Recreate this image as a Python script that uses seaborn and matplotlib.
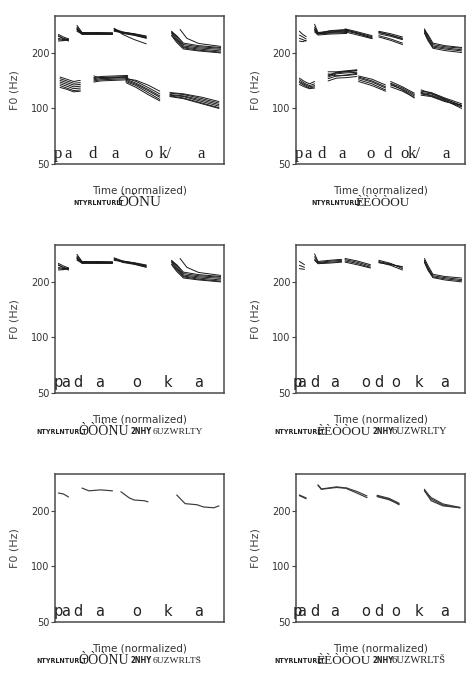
import numpy as np
import pandas as pd
import matplotlib
matplotlib.use("Agg")
import matplotlib.pyplot as plt
from matplotlib.ticker import FixedLocator, NullLocator, FixedFormatter
import seaborn as sns

# ---------------- data (F0 in Hz, time normalized 0..1) ----------------
# Panel 1 (top-left): upper register
p1_a_t = [0.02, 0.05, 0.08]
p1_a = [[252, 244, 238], [246, 240, 236], [240, 236, 234], [236, 234, 236], [232, 233, 238], [248, 238, 232]]
p1_b_t = [0.13, 0.16, 0.25, 0.34]
p1_b = [[282, 258, 256, 255], [276, 256, 255, 254], [270, 254, 254, 253], [266, 257, 258, 257],
        [262, 253, 252, 252], [272, 255, 256, 256], [268, 252, 253, 254]]
p1_c_t = [0.35, 0.40, 0.47, 0.54]
p1_c = [[270, 260, 253, 245], [266, 258, 252, 243], [262, 257, 250, 241], [268, 255, 249, 240],
        [264, 259, 254, 247], [272, 252, 236, 224]]
p1_d_t = [0.69, 0.72, 0.76, 0.85, 0.98]
p1_d = [[262, 245, 222, 216, 212], [258, 240, 218, 213, 209], [255, 236, 215, 210, 205],
        [250, 232, 213, 207, 202], [260, 248, 226, 219, 214], [248, 228, 210, 205, 200]]
p1_d2_t = [0.74, 0.78, 0.85, 0.98]
p1_d2 = [[268, 240, 225, 217]]
# Panel 1: lower register
p1_e_t = [0.03, 0.07, 0.11, 0.15]
p1_e = [[148, 144, 140, 142], [145, 141, 137, 138], [142, 138, 134, 135], [139, 135, 131, 132],
        [136, 132, 128, 129], [133, 129, 125, 126], [130, 127, 123, 124]]
p1_f_t = [0.23, 0.27, 0.35, 0.43]
p1_f = [[147, 149, 150, 151], [145, 147, 148, 149], [143, 145, 146, 147], [141, 143, 144, 145],
        [150, 146, 147, 148], [139, 141, 142, 143]]
p1_g_t = [0.42, 0.48, 0.55, 0.62]
p1_g = [[146, 140, 130, 120], [144, 137, 127, 117], [142, 135, 125, 115], [140, 133, 122, 112],
        [138, 130, 119, 110], [145, 142, 134, 124]]
p1_h_t = [0.68, 0.76, 0.87, 0.97]
p1_h = [[121, 119, 113, 107], [119, 117, 111, 105], [118, 116, 109, 103], [117, 114, 107, 101],
        [122, 120, 115, 109], [116, 113, 106, 100]]

# Panel 2 (top-right): upper register
p2_a_t = [0.02, 0.04, 0.06]
p2_a = [[262, 252, 245], [250, 244, 238], [240, 236, 232], [232, 230, 234]]
p2_b_t = [0.11, 0.13, 0.20, 0.30]
p2_b = [[286, 258, 262, 266], [276, 256, 260, 263], [270, 254, 258, 261], [264, 253, 256, 258],
        [260, 250, 253, 255], [268, 255, 264, 268]]
p2_c_t = [0.29, 0.35, 0.45]
p2_c = [[270, 262, 248], [266, 259, 245], [263, 256, 242], [260, 252, 239], [268, 258, 240]]
p2_d_t = [0.49, 0.56, 0.63]
p2_d = [[262, 254, 244], [258, 250, 240], [254, 246, 236], [248, 238, 226], [244, 234, 222], [260, 249, 238]]
p2_e_t = [0.76, 0.78, 0.81, 0.88, 0.98]
p2_e = [[270, 248, 222, 216, 212], [264, 242, 218, 213, 208], [260, 238, 215, 210, 205],
        [256, 234, 212, 206, 201], [266, 252, 226, 219, 214]]
# Panel 2: lower register
p2_f_t = [0.02, 0.05, 0.08, 0.11]
p2_f = [[146, 140, 136, 140], [143, 137, 133, 136], [140, 135, 131, 133], [138, 133, 129, 131], [135, 131, 128, 129]]
p2_g_t = [0.19, 0.24, 0.30, 0.36]
p2_g = [[154, 150, 152, 155], [150, 156, 158, 160], [152, 157, 159, 161], [148, 154, 156, 157],
        [145, 150, 151, 153], [141, 146, 147, 149], [158, 158, 160, 162]]
p2_h_t = [0.37, 0.45, 0.53]
p2_h = [[150, 144, 134], [148, 141, 131], [146, 139, 129], [143, 136, 126], [140, 133, 124]]
p2_i_t = [0.56, 0.63, 0.70]
p2_i = [[140, 131, 121], [137, 129, 119], [134, 127, 117], [131, 124, 115], [136, 126, 114]]
p2_j_t = [0.74, 0.80, 0.88, 0.98]
p2_j = [[124, 122, 114, 106], [122, 120, 112, 104], [120, 117, 110, 102], [126, 121, 113, 103],
        [121, 118, 111, 100], [118, 116, 109, 104]]

# Panel 4 (middle-right)
p4_a_t = [0.02, 0.05]
p4_a = [[258, 248], [246, 240], [236, 234]]
p4_b_t = [0.11, 0.13, 0.20, 0.27]
p4_b = [[284, 258, 262, 265], [274, 255, 259, 262], [266, 253, 256, 258], [262, 251, 253, 256]]
p4_c_t = [0.29, 0.36, 0.44]
p4_c = [[268, 260, 248], [264, 256, 244], [260, 252, 240], [256, 248, 238]]
p4_d_t = [0.49, 0.56, 0.63]
p4_d = [[262, 252, 236], [258, 250, 240], [254, 248, 242], [256, 246, 232]]
p4_e_t = [0.76, 0.78, 0.81, 0.88, 0.98]
p4_e = [[268, 246, 220, 214, 210], [262, 240, 216, 211, 206], [258, 236, 213, 208, 203], [255, 232, 211, 205, 200]]

# Panel 5 (bottom-left): single contour
p5_a_t = [0.02, 0.05, 0.08]
p5_a = [[250, 247, 238]]
p5_b_t = [0.16, 0.20, 0.27, 0.34]
p5_b = [[266, 257, 260, 257]]
p5_c_t = [0.39, 0.44, 0.47, 0.53, 0.55]
p5_c = [[254, 235, 229, 227, 224]]
p5_d_t = [0.72, 0.77, 0.84, 0.88, 0.94, 0.97]
p5_d = [[244, 219, 216, 210, 208, 213]]

# Panel 6 (bottom-right)
p6_a_t = [0.02, 0.06]
p6_a = [[244, 235], [242, 233]]
p6_b_t = [0.13, 0.15, 0.24, 0.30]
p6_b = [[277, 263, 270, 266], [275, 262, 268, 265]]
p6_c_t = [0.30, 0.36, 0.42]
p6_c = [[266, 255, 241], [264, 250, 236]]
p6_d_t = [0.48, 0.55, 0.61]
p6_d = [[241, 232, 216], [239, 230, 218], [243, 234, 220]]
p6_e_t = [0.76, 0.80, 0.87, 0.97]
p6_e = [[257, 227, 213, 208], [262, 232, 215, 208], [258, 236, 218, 209]]

# Segment labels
lab_r1l = ["p", "a", "d", "a", "o", "k/", "a"]
pos_r1l = [0.02, 0.08, 0.22, 0.355, 0.555, 0.65, 0.865]
lab_r1r = ["p", "a", "d", "a", "o", "d", "o", "k/", "a"]
pos_r1r = [0.02, 0.07, 0.15, 0.27, 0.44, 0.54, 0.645, 0.70, 0.89]
lab_l = ["p", "a", "d", "a", "o", "k", "a"]
pos_l = [0.02, 0.06, 0.137, 0.266, 0.485, 0.67, 0.85]
lab_r = ["p", "a", "d", "a", "o", "d", "o", "k", "a"]
pos_r = [0.01, 0.035, 0.11, 0.23, 0.41, 0.49, 0.59, 0.73, 0.88]

yticks = [50, 100, 200]
ytick_labels = ["50", "100", "200"]
ylims = (50, 317)

# caption pieces: (text, kind, x position in axes fraction, font size)
captions = {
    0: [("NTYRLNTURLT", "sans", 0.11, 5), ("ÒÒNU", "serif", 0.37, 11)],
    1: [("NTYRLNTURLT", "sans", 0.09, 5), ("ÈÈÒÒOU", "serif", 0.35, 9.5)],
    2: [("NTYRLNTURLT", "sans", -0.11, 5), ("ÒÒÒNU", "serif", 0.136, 10),
        ("2NHY", "sans", 0.445, 5.5), ("6UZWRLTY", "serif", 0.575, 6.8)],
    3: [("NTYRLNTURLT", "sans", -0.13, 5), ("ÈÈÒÒOU", "serif", 0.12, 9.5),
        ("2NHY", "sans", 0.455, 5.5), ("6UZWRLTY", "serif", 0.565, 7.6)],
    4: [("NTYRLNTURLT", "sans", -0.11, 5), ("ÒÒÒNU", "serif", 0.136, 10),
        ("2NHY", "sans", 0.445, 5.5), ("6UZWRLTŠ", "serif", 0.575, 6.8)],
    5: [("NTYRLNTURLT", "sans", -0.13, 5), ("ÈÈÒÒOU", "serif", 0.12, 9.5),
        ("2NHY", "sans", 0.455, 5.5), ("6UZWRLTŠ", "serif", 0.565, 7.6)],
}

panels = [
    [(p1_a_t, p1_a), (p1_b_t, p1_b), (p1_c_t, p1_c), (p1_d_t, p1_d), (p1_d2_t, p1_d2),
     (p1_e_t, p1_e), (p1_f_t, p1_f), (p1_g_t, p1_g), (p1_h_t, p1_h)],
    [(p2_a_t, p2_a), (p2_b_t, p2_b), (p2_c_t, p2_c), (p2_d_t, p2_d), (p2_e_t, p2_e),
     (p2_f_t, p2_f), (p2_g_t, p2_g), (p2_h_t, p2_h), (p2_i_t, p2_i), (p2_j_t, p2_j)],
    [(p1_a_t, p1_a), (p1_b_t, p1_b), (p1_c_t, p1_c[:5]), (p1_d_t, p1_d), (p1_d2_t, p1_d2)],
    [(p4_a_t, p4_a), (p4_b_t, p4_b), (p4_c_t, p4_c), (p4_d_t, p4_d), (p4_e_t, p4_e)],
    [(p5_a_t, p5_a), (p5_b_t, p5_b), (p5_c_t, p5_c), (p5_d_t, p5_d)],
    [(p6_a_t, p6_a), (p6_b_t, p6_b), (p6_c_t, p6_c), (p6_d_t, p6_d), (p6_e_t, p6_e)],
]
seg_labels = [(lab_r1l, pos_r1l, "serif"), (lab_r1r, pos_r1r, "serif"),
              (lab_l, pos_l, "sans"), (lab_r, pos_r, "sans"),
              (lab_l, pos_l, "sans"), (lab_r, pos_r, "sans")]


def to_df(segs):
    rows = []
    uid = 0
    for t, lines in segs:
        for ln in lines:
            for ti, f in zip(t, ln):
                rows.append((uid, ti, f))
            uid += 1
    return pd.DataFrame(rows, columns=["line", "t", "f0"])


sns.set_theme(style="white")
plt.rcParams["font.family"] = ["DejaVu Sans"]

W, H = 471, 682
fig = plt.figure(figsize=(W / 100, H / 100), dpi=100)

col_x = [55, 296]
row_top = [16, 245, 474]
aw, ah = 169, 148
SERIF = ["Liberation Serif", "DejaVu Serif"]

for i, segs in enumerate(panels):
    r, c = divmod(i, 2)
    x0 = col_x[c]
    y0 = row_top[r]
    ax = fig.add_axes([x0 / W, 1 - (y0 + ah) / H, aw / W, ah / H])
    df = to_df(segs)
    col = "#1a1a1a" if r < 2 else "#3a3a3a"
    lw = 0.7 if r < 2 else 0.85
    sns.lineplot(data=df, x="t", y="f0", units="line", estimator=None,
                 color=col, lw=lw, ax=ax, legend=False)
    ax.set_yscale("log")
    ax.set_ylim(*ylims)
    ax.set_xlim(0, 1)
    ax.yaxis.set_major_locator(FixedLocator(yticks))
    ax.yaxis.set_major_formatter(FixedFormatter(ytick_labels))
    ax.yaxis.set_minor_locator(NullLocator())
    ax.set_xticks([])
    ax.tick_params(axis="y", which="major", left=True, length=3, width=0.8,
                   color="#444444", labelsize=7, labelcolor="#333333", pad=1)
    for s in ax.spines.values():
        s.set_color("#4a4a4a")
        s.set_linewidth(1.1)
    ax.set_xlabel("")
    ax.set_ylabel("F0 (Hz)", fontsize=8, color="#444444")
    ax.yaxis.set_label_coords(-0.21, 0.5)

    labs, poss, fam = seg_labels[i]
    for lab, p in zip(labs, poss):
        if fam == "serif":
            ax.text(p, 0.065, lab, transform=ax.transAxes, ha="center", va="center",
                    fontsize=12, family=SERIF, color="#222222")
        else:
            ax.text(p, 0.07, lab, transform=ax.transAxes, ha="center", va="center",
                    fontsize=10.5, color="#222222")

    ax.text(0.5, -0.176, "Time (normalized)", transform=ax.transAxes, ha="center",
            va="center", fontsize=7.5, color="#333333")
    for txt, kind, xp, fs in captions[i]:
        if kind == "sans":
            ax.text(xp, -0.262, txt, transform=ax.transAxes, ha="left", va="center",
                    fontsize=fs, weight="bold", family=["DejaVu Sans"],
                    fontstretch="condensed", color="#222222")
        else:
            ax.text(xp, -0.262, txt, transform=ax.transAxes, ha="left", va="center",
                    fontsize=fs, family=SERIF, color="#222222")

fig.savefig("out.png", dpi=100)
